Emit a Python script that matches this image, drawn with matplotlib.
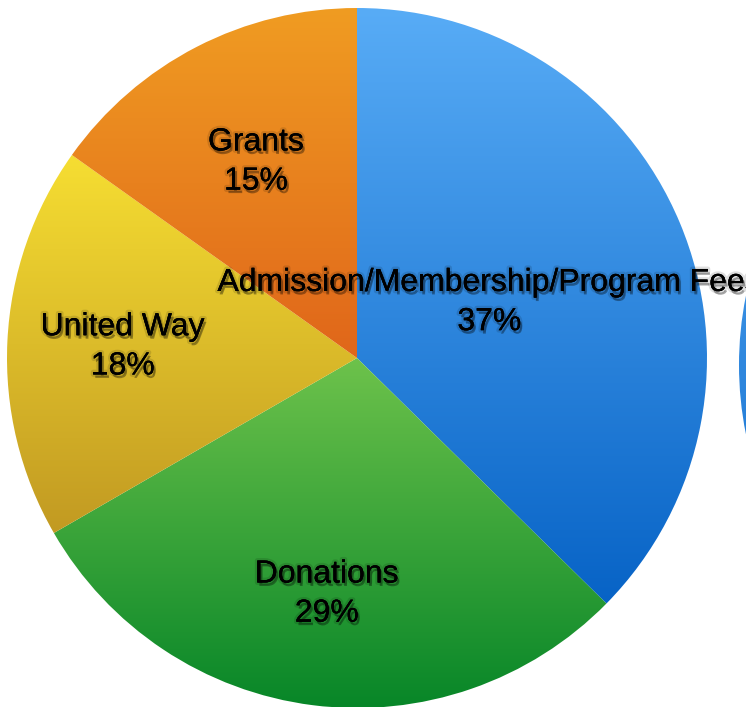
import numpy as np
import matplotlib.pyplot as plt
import matplotlib.patheffects as pe
from matplotlib.colors import LinearSegmentedColormap
from matplotlib.patches import Circle

labels = ['Admission/Membership/Program Fees', 'Donations', 'United Way', 'Grants']
values = [37, 29, 18, 15]
pct_labels = ['37%', '29%', '18%', '15%']
# gradient (top, bottom) for each slice
top_colors = ['#58acf6', '#6dc24b', '#f6de32', '#f09c22']
bot_colors = ['#0763c6', '#078628', '#c29a22', '#e0661a']
label_dist = [0.41, 0.68, 0.67, 0.63]

plt.rcParams['font.family'] = ['Liberation Sans', 'DejaVu Sans']

W, H = 746, 707
fig = plt.figure(figsize=(W / 100, H / 100), dpi=100)
ax = fig.add_axes([0, 0, 1, 1])

cx, cy, r = 357, H - 358, 350
wedges, _ = ax.pie(values, center=(cx, cy), radius=r, startangle=90,
                   counterclock=False, wedgeprops=dict(linewidth=0))


def gradient_fill(patch, c_top, c_bot):
    bb = patch.get_path().get_extents(patch.get_transform() - ax.transData)
    cmap = LinearSegmentedColormap.from_list('g', [c_bot, c_top])
    grad = np.linspace(0, 1, 256).reshape(-1, 1)
    im = ax.imshow(grad, cmap=cmap, origin='lower', aspect='auto',
                   extent=[bb.x0, bb.x1, bb.y0, bb.y1], zorder=1,
                   interpolation='bilinear')
    im.set_clip_path(patch)


for w, ct, cb in zip(wedges, top_colors, bot_colors):
    w.set_facecolor('none')
    gradient_fill(w, ct, cb)

# neighbouring chart peeking in at the right edge
other = Circle((739 + 350, H - 365), 350, facecolor='none', edgecolor='none')
ax.add_patch(other)
gradient_fill(other, '#58acf6', '#0763c6')

shadow = [pe.withStroke(linewidth=3.5, foreground=(0, 0, 0, 0.12)),
          pe.SimplePatchShadow(offset=(1.5, -2.5), shadow_rgbFace='black', alpha=0.35),
          pe.Normal()]
for w, lab, pct, d in zip(wedges, labels, pct_labels, label_dist):
    ang = np.deg2rad((w.theta1 + w.theta2) / 2)
    x = cx + d * r * np.cos(ang)
    y = cy + d * r * np.sin(ang)
    ax.text(x, y, lab + '\n' + pct, ha='center', va='center', fontsize=23,
            linespacing=1.4, color='black', zorder=5, path_effects=shadow)

ax.set_xlim(0, W)
ax.set_ylim(0, H)
ax.set_aspect('auto')
ax.axis('off')
fig.savefig('out.png', dpi=100)
